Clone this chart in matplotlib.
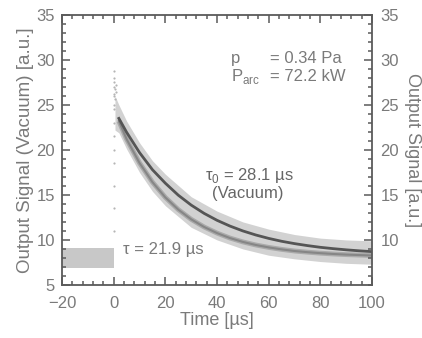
import matplotlib
matplotlib.use("Agg")
import matplotlib.pyplot as plt
from matplotlib.ticker import MultipleLocator, FixedLocator

plt.rcParams['font.family'] = ['Liberation Sans Narrow', 'Liberation Sans', 'DejaVu Sans']

# Fit curves
t_fit = [2, 5, 10, 15, 20, 25, 30, 35, 40, 45, 50, 55, 60, 65, 70, 75, 80, 85, 90, 95, 100]
vac_fit = [23.5, 21.96, 19.7, 17.8, 16.3, 14.97, 13.87, 12.95, 12.18, 11.54, 11.0,
           10.55, 10.17, 9.85, 9.59, 9.37, 9.18, 9.03, 8.90, 8.79, 8.70]
gas_fit = [23.2, 21.2, 18.55, 16.42, 14.72, 13.37, 12.29, 11.44, 10.76, 10.21, 9.78,
           9.44, 9.17, 8.95, 8.77, 8.64, 8.53, 8.44, 8.37, 8.32, 8.27]

# Envelope of the measured scatter cloud
t_cloud = [0.5, 2, 5, 10, 15, 20, 30, 40, 50, 60, 70, 80, 90, 100]
cloud_hi = [26.0, 25.0, 23.2, 20.8, 18.8, 17.3, 14.8, 13.2, 12.0, 11.2, 10.6, 10.2, 10.0, 9.9]
cloud_lo = [22.2, 21.9, 20.1, 17.5, 15.4, 13.8, 11.4, 10.0, 9.0, 8.3, 7.9, 7.6, 7.4, 7.3]

# Pre-trigger baseline
t_base = [-20, 0]
base_hi = [9.1, 9.1]
base_lo = [6.9, 6.9]

# Sparse points at the trigger instant
t_spark = [0.0, 0.0, 0.0, 0.0, 0.0, 0.0, 0.0, 0.0, 0.0, 0.0, 0.0, 0.0, 0.3, 0.3, 0.3, 0.6, 0.6, 0.8, 1.0]
v_spark = [28.8, 28.0, 27.0, 26.0, 24.5, 23.0, 21.5, 20.0, 18.5, 16.0, 13.5, 11.0, 27.5, 26.2,
           25.0, 26.8, 25.6, 27.2, 26.4]

xticks = [-20, 0, 20, 40, 60, 80, 100]
yticks = [5, 10, 15, 20, 25, 30, 35]
yticks_r = [10, 15, 20, 25, 30, 35]

spine_c = '#5a5a5a'
text_c = '#7a7a7a'
fs = 12

fig = plt.figure(figsize=(4.22, 3.38), dpi=100)
ax = fig.add_axes([0.147, 0.157, 0.7345, 0.799])

ax.fill_between(t_base, base_lo, base_hi, color='#c8c8c8', lw=0)
ax.fill_between(t_cloud, cloud_lo, cloud_hi, color='#d2d2d2', lw=0)
ax.scatter(t_spark, v_spark, s=2.5, color='#b5b5b5', lw=0)
ax.plot(t_fit, gas_fit, color='#aaaaaa', lw=3.5, solid_capstyle='butt')
ax.plot(t_fit, gas_fit, color='#868686', lw=1.5)
ax.plot(t_fit, vac_fit, color='#555555', lw=2.0)

ax.set_xlim(-20, 100)
ax.set_ylim(5, 35)
ax.xaxis.set_major_locator(FixedLocator(xticks))
ax.xaxis.set_minor_locator(MultipleLocator(4))
ax.yaxis.set_major_locator(FixedLocator(yticks))
ax.yaxis.set_minor_locator(MultipleLocator(1))

for s in ax.spines.values():
    s.set_color(spine_c)
    s.set_linewidth(1.3)

ax.tick_params(which='both', direction='in', top=True, right=False, color=spine_c,
               labelcolor=text_c, labelsize=fs, width=1.1)
ax.tick_params(axis='x', which='both', pad=8)
ax.tick_params(axis='y', which='both', pad=5)
ax.tick_params(which='major', length=6)
ax.tick_params(which='minor', length=3)

ax2 = ax.twinx()
ax2.set_ylim(5, 35)
ax2.yaxis.set_major_locator(FixedLocator(yticks_r))
ax2.yaxis.set_minor_locator(MultipleLocator(1))
ax2.tick_params(which='both', direction='in', color=spine_c, labelcolor=text_c,
                labelsize=fs, width=1.1, pad=6)
ax2.tick_params(which='major', length=6)
ax2.tick_params(which='minor', length=3)
for s in ax2.spines.values():
    s.set_visible(False)

ax.set_xlabel('Time [µs]', color=text_c, fontsize=13, labelpad=1)
ax.set_ylabel('Output Signal (Vacuum) [a.u.]', color=text_c, fontsize=13.5, labelpad=2)
ax2.set_ylabel('Output Signal [a.u.]', color=text_c, fontsize=13, rotation=270, labelpad=16)

ax.text(0.545, 0.84, 'p', transform=ax.transAxes, color=text_c, fontsize=fs,
        va='center', ha='left')
ax.text(0.672, 0.84, '= 0.34 Pa', transform=ax.transAxes, color=text_c, fontsize=fs,
        va='center', ha='left')
ax.text(0.545, 0.772, r'P$_{\mathregular{arc}}$', transform=ax.transAxes, color=text_c,
        fontsize=fs, va='center', ha='left')
ax.text(0.672, 0.772, '= 72.2 kW', transform=ax.transAxes, color=text_c, fontsize=fs,
        va='center', ha='left')
ax.text(0.46, 0.405, r'τ$_{\mathregular{0}}$ = 28.1 µs', transform=ax.transAxes, color='#666666',
        fontsize=fs, va='center', ha='left')
ax.text(0.484, 0.337, '(Vacuum)', transform=ax.transAxes, color='#666666', fontsize=fs,
        va='center', ha='left')
ax.text(0.197, 0.13, 'τ = 21.9 µs', transform=ax.transAxes, color=text_c, fontsize=fs,
        va='center', ha='left')

fig.savefig('out.png', dpi=100)
